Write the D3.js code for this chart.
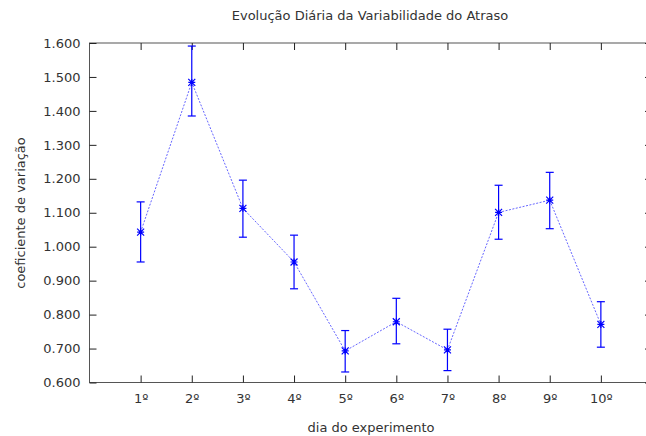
<!DOCTYPE html>
<html>
<head>
<meta charset="utf-8">
<script src="https://cdn.jsdelivr.net/npm/d3@7"></script>
<style>
    body { margin: 0; background: #fff; }
    svg { display: block; font-family: 'DejaVu Sans', sans-serif; }
</style>
</head>
<body>
<svg width="646" height="436"></svg>
<script>
const DAYS = ['1º', '2º', '3º', '4º', '5º', '6º', '7º', '8º', '9º', '10º'];
const CV = [1.043, 1.484, 1.113, 0.955, 0.693, 0.779, 0.696, 1.101, 1.137, 0.771];
const CV_LOW = [0.955, 1.385, 1.028, 0.876, 0.631, 0.714, 0.635, 1.022, 1.053, 0.704];
const CV_HIGH = [1.132, 1.591, 1.196, 1.034, 0.753, 0.848, 0.757, 1.181, 1.219, 0.838];
const Y_TICKS = [0.6, 0.7, 0.8, 0.9, 1.0, 1.1, 1.2, 1.3, 1.4, 1.5, 1.6];

const svg = d3.select('svg');
const pLeft = 89.5, pRight = 652, pTop = 43, pBottom = 382.5;
const axisColor = '#555';
const textColor = '#333';
const fontSize = '13px';

const x = d3.scaleLinear().domain([0, 11]).range([pLeft, pRight]);
const y = d3.scaleLinear().domain([0.6, 1.6]).range([pBottom, pTop]);
const fmt = d3.format('.3f');

// frame
svg.append('rect')
    .attr('x', pLeft).attr('y', pTop)
    .attr('width', pRight - pLeft).attr('height', pBottom - pTop)
    .attr('fill', 'none').attr('stroke', axisColor).attr('stroke-width', 1);

// y axis (ticks inside) + mirrored on the right
const yAxis = d3.axisLeft(y).tickValues(Y_TICKS).tickFormat(fmt).tickSizeInner(-7).tickSizeOuter(0).tickPadding(9);
const gy = svg.append('g').attr('transform', `translate(${pLeft},0)`).call(yAxis);
const gyr = svg.append('g').attr('transform', `translate(${pRight},0)`)
    .call(d3.axisRight(y).tickValues(Y_TICKS).tickSizeInner(-7).tickSizeOuter(0).tickFormat(''));

// x axis + mirrored on top
const xAxis = d3.axisBottom(x).tickValues(d3.range(1, 11)).tickFormat((d) => DAYS[d - 1])
    .tickSizeInner(-7).tickSizeOuter(0).tickPadding(11);
const gx = svg.append('g').attr('transform', `translate(0,${pBottom})`).call(xAxis);
const gxt = svg.append('g').attr('transform', `translate(0,${pTop})`)
    .call(d3.axisTop(x).tickValues(d3.range(1, 11)).tickSizeInner(-7).tickSizeOuter(0).tickFormat(''));

[gy, gyr, gx, gxt].forEach((g) => {
    g.select('.domain').remove();
    g.selectAll('line').attr('stroke', '#222');
    g.selectAll('text').attr('fill', textColor).style('font-size', fontSize).style('font-family', "'DejaVu Sans', sans-serif");
});

// titles
svg.append('text')
    .text('Evolução Diária da Variabilidade do Atraso')
    .attr('x', 370).attr('y', 20)
    .attr('text-anchor', 'middle')
    .style('font-size', fontSize).attr('fill', textColor);

svg.append('text')
    .text('dia do experimento')
    .attr('x', 371).attr('y', 432)
    .attr('text-anchor', 'middle')
    .style('font-size', fontSize).attr('fill', textColor);

svg.append('text')
    .text('coeficiente de variação')
    .attr('transform', 'translate(25,213) rotate(-90)')
    .attr('text-anchor', 'middle')
    .style('font-size', fontSize).attr('fill', textColor);

// data
const data = DAYS.map((d, i) => ({ i: i + 1, v: CV[i], lo: CV_LOW[i], hi: CV_HIGH[i] }));
const color = '#0000ff';

svg.append('path')
    .datum(data)
    .attr('d', d3.line().x(d => x(d.i)).y(d => y(d.v)))
    .attr('fill', 'none')
    .attr('stroke', color)
    .attr('stroke-opacity', 0.6)
    .attr('stroke-width', 1)
    .attr('stroke-dasharray', '2,1.5');

const bars = svg.append('g').attr('stroke', color).attr('stroke-width', 1.2)
    .selectAll('g').data(data).enter().append('g');
bars.append('line')
    .attr('x1', d => x(d.i)).attr('x2', d => x(d.i))
    .attr('y1', d => y(d.lo)).attr('y2', d => y(d.hi));
bars.append('line')
    .attr('x1', d => x(d.i) - 4).attr('x2', d => x(d.i) + 4)
    .attr('y1', d => y(d.lo)).attr('y2', d => y(d.lo));
bars.append('line')
    .attr('x1', d => x(d.i) - 4).attr('x2', d => x(d.i) + 4)
    .attr('y1', d => y(d.hi)).attr('y2', d => y(d.hi));

// asterisk markers
const s = 3.5;
bars.append('path')
    .attr('d', d => {
        const cx = x(d.i), cy = y(d.v);
        return `M${cx - s},${cy}H${cx + s}M${cx},${cy - s}V${cy + s}` +
            `M${cx - s},${cy - s}L${cx + s},${cy + s}M${cx - s},${cy + s}L${cx + s},${cy - s}`;
    })
    .attr('fill', 'none');
</script>
</body>
</html>
